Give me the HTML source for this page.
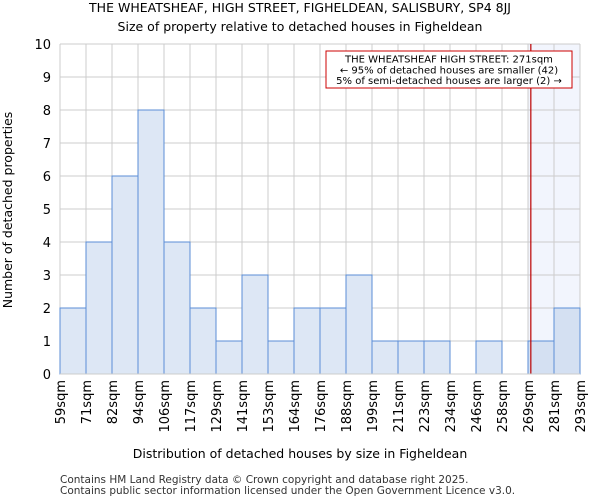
<!DOCTYPE html>
<html><head><meta charset="utf-8"><style>
body{margin:0;background:#fff;}
svg{display:block;font-family:"DejaVu Sans","Liberation Sans",sans-serif;}
</style></head><body>
<svg id="chart" width="600" height="500">
<text x="300" y="12" text-anchor="middle" font-size="12.5">THE WHEATSHEAF, HIGH STREET, FIGHELDEAN, SALISBURY, SP4 8JJ</text>
<text x="300" y="31" text-anchor="middle" font-size="12.5">Size of property relative to detached houses in Figheldean</text>
<g id="grid"></g><g id="bars"></g><g id="axes"></g>
<text x="300" y="458" text-anchor="middle" font-size="12.5">Distribution of detached houses by size in Figheldean</text>
<text transform="translate(12,210) rotate(-90)" text-anchor="middle" font-size="12.5">Number of detached properties</text>
<text x="60" y="483" font-size="10.5" fill="#333">Contains HM Land Registry data © Crown copyright and database right 2025.</text>
<text x="60" y="494" font-size="10.5" fill="#333">Contains public sector information licensed under the Open Government Licence v3.0.</text>
</svg>
<script>
const labels=["59sqm","71sqm","82sqm","94sqm","106sqm","117sqm","129sqm","141sqm","153sqm","164sqm","176sqm","188sqm","199sqm","211sqm","223sqm","234sqm","246sqm","258sqm","269sqm","281sqm","293sqm"];
const counts=[2,4,6,8,4,2,1,3,1,2,2,3,1,1,1,0,1,0,1,2];
const yTicks=[0,1,2,3,4,5,6,7,8,9,10];
const subjectSize=271;
const highlightFromBin=18;
const NS="http://www.w3.org/2000/svg";
const L=60,R=580,T=44,B=374,yMax=10;
const nb=counts.length,bw=(R-L)/nb;
const x=i=>L+i*bw;
const y=v=>B-(v/yMax)*(B-T);
const binVals=labels.map(s=>parseFloat(s));
function xv(v){for(let i=0;i<nb;i++){if(v>=binVals[i]&&v<=binVals[i+1])return x(i)+(v-binVals[i])/(binVals[i+1]-binVals[i])*bw;}return R;}
function mk(p,t,a){const e=document.createElementNS(NS,t);for(const k in a)e.setAttribute(k,a[k]);p.appendChild(e);return e;}
const g=document.getElementById('grid'),bg=document.getElementById('bars'),ax=document.getElementById('axes');
const hl=mk(g,'rect',{x:x(highlightFromBin),y:T,width:R-x(highlightFromBin),height:B-T,fill:'#f2f5fd'});


yTicks.forEach(t=>{mk(g,'line',{x1:L,x2:R,y1:y(t),y2:y(t),stroke:'#ccc','stroke-width':1});
const tx=mk(ax,'text',{x:L-9,y:y(t)+5,'text-anchor':'end','font-size':13});tx.textContent=t;

});
labels.forEach((s,i)=>{mk(g,'line',{x1:x(i),x2:x(i),y1:T,y2:B,stroke:'#ccc','stroke-width':1});
const tx=mk(ax,'text',{transform:`translate(${x(i)+5},${B+6}) rotate(-90)`,'text-anchor':'end','font-size':13});tx.textContent=s;

});
counts.forEach((c,i)=>{if(!c)return;const r=mk(bg,'rect',{x:x(i),y:y(c),width:bw,height:B-y(c),fill:i>=highlightFromBin?'#d4e0f2':'#dde7f5',stroke:'#5b8ed6','stroke-width':1});

});
const mx=xv(subjectSize)-1.5;
const ln=mk(ax,'line',{x1:mx,x2:mx,y1:T,y2:B,stroke:'#b00','stroke-width':1.2});


const box=mk(ax,'rect',{x:326,y:51,width:246,height:37,fill:'#fff',stroke:'#c00','stroke-width':1});


["THE WHEATSHEAF HIGH STREET: 271sqm","← 95% of detached houses are smaller (42)","5% of semi-detached houses are larger (2) →"].forEach((s,i)=>{
const t=mk(ax,'text',{x:449,y:62.5+i*10.8,'text-anchor':'middle','font-size':10});t.textContent=s;

});
mk(ax,'line',{x1:L,x2:R,y1:B,y2:B,stroke:'#ccc'});
</script>
</body></html>
